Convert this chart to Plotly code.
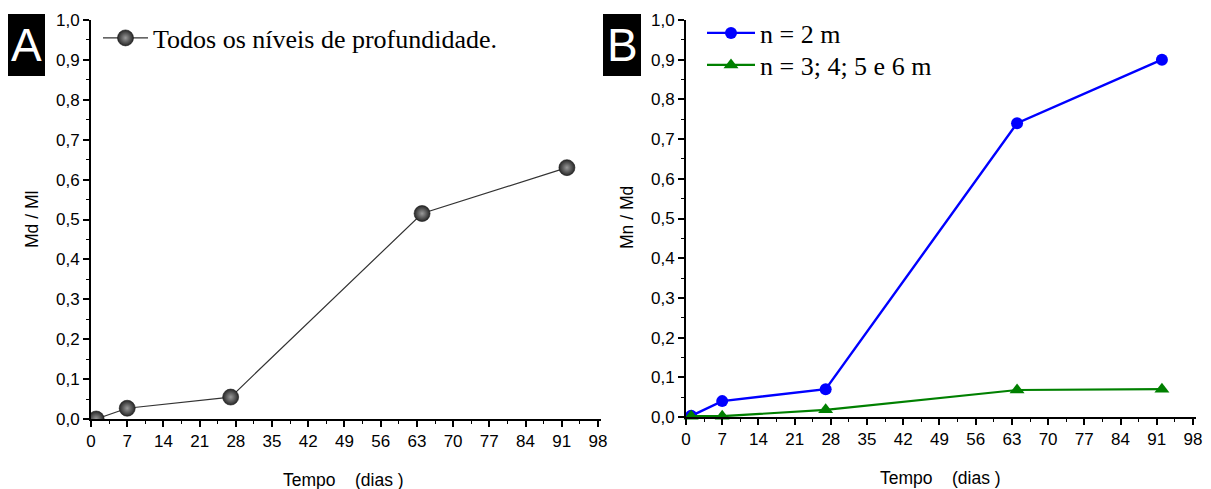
import plotly.graph_objects as go

# Panel A data
dias_a = [1, 7, 27, 64, 92]
md_ml = [0.0, 0.027, 0.055, 0.515, 0.63]

# Panel B data
dias_b = [1, 7, 27, 64, 92]
mn_md_2m = [0.003, 0.04, 0.07, 0.74, 0.90]
mn_md_3a6m = [0.002, 0.002, 0.018, 0.068, 0.07]

x_ticks = list(range(0, 99, 7))
y_ticks = [round(i * 0.1, 1) for i in range(11)]

W, H = 1211, 489

def px_x(p):
    return p / W

def px_y(p):
    return 1 - p / H

fig = go.Figure()

fig.add_trace(go.Scatter(
    x=dias_a, y=md_ml, mode="lines+markers",
    name="Todos os níveis de profundidade.",
    line=dict(color="#333333", width=1.2),
    marker=dict(size=16, color="#262626", line=dict(color="#1a1a1a", width=0.6),
                gradient=dict(type="radial", color="#9a9a9a")),
    cliponaxis=True, xaxis="x", yaxis="y", legend="legend",
))

fig.add_trace(go.Scatter(
    x=dias_b, y=mn_md_2m, mode="lines+markers", name="n = 2 m",
    line=dict(color="#0000FF", width=2.4),
    marker=dict(size=12, color="#0000FF", symbol="circle"),
    cliponaxis=True, xaxis="x2", yaxis="y2", legend="legend2",
))
fig.add_trace(go.Scatter(
    x=dias_b, y=mn_md_3a6m, mode="lines+markers", name="n = 3; 4; 5 e 6 m",
    line=dict(color="#008000", width=2.2),
    marker=dict(size=13, color="#008000", symbol="triangle-up"),
    cliponaxis=False, xaxis="x2", yaxis="y2", legend="legend3",
))

tickfont = dict(family="Liberation Sans, Arial", size=17, color="black")

def xaxis_cfg(x0, anchor):
    return dict(
        domain=[px_x(x0), px_x(x0 + 98.5 * 5.173)], range=[0, 98.5],
        tickvals=x_ticks, ticks="outside", ticklen=6, tickwidth=1.5, tickcolor="black",
        showline=True, linecolor="black", linewidth=2, showgrid=False, zeroline=False,
        tickfont=tickfont, anchor=anchor, automargin=False,
        minor=dict(ticks="outside", ticklen=3, tickwidth=1.2, tickcolor="black",
                   tickvals=[x + 3.5 for x in x_ticks[:-1]], showgrid=False),
    )

def yaxis_cfg(y_bot, y_top, anchor):
    return dict(
        domain=[px_y(y_bot), px_y(y_top)], range=[0, 1.0],
        tickvals=y_ticks, tickformat=".1f", ticks="outside", ticklen=6, tickwidth=1.5,
        tickcolor="black", showline=True, linecolor="black", linewidth=2,
        showgrid=False, zeroline=False, tickfont=tickfont, anchor=anchor, automargin=False,
        minor=dict(ticks="outside", ticklen=3, tickwidth=1.2, tickcolor="black",
                   tickvals=[y + 0.05 for y in y_ticks[:-1]], showgrid=False),
    )

legend_font = dict(family="Liberation Serif, Times New Roman", size=26, color="black")

def legend_cfg(x, y, iw=45):
    return dict(x=px_x(x), y=px_y(y), xanchor="left", yanchor="middle",
                font=legend_font, bgcolor="rgba(0,0,0,0)", itemwidth=iw,
                tracegroupgap=0)

fig.update_layout(
    width=W, height=H,
    margin=dict(l=0, r=0, t=0, b=0, autoexpand=False),
    paper_bgcolor="white", plot_bgcolor="white",
    separators=",.",
    xaxis=xaxis_cfg(91, "y"),
    yaxis=yaxis_cfg(419, 20, "x"),
    xaxis2=xaxis_cfg(686, "y2"),
    yaxis2=yaxis_cfg(417, 20, "x2"),
    legend=legend_cfg(98, 38),
    legend2=legend_cfg(702, 33, 48),
    legend3=legend_cfg(702, 65, 48),
    showlegend=True,
)

# Panel letters
for x0, x1, letter in [(8, 45, "A"), (603, 641, "B")]:
    fig.add_shape(type="rect", xref="paper", yref="paper",
                  x0=px_x(x0), x1=px_x(x1), y0=px_y(76), y1=px_y(14),
                  fillcolor="black", line=dict(width=0), layer="above")
    fig.add_annotation(xref="paper", yref="paper", x=px_x((x0 + x1) / 2), y=px_y(45),
                       text=letter, showarrow=False,
                       font=dict(family="Liberation Sans, Arial", size=46, color="white"),
                       xanchor="center", yanchor="middle")

title_font = dict(family="Liberation Sans, Arial", size=17.5, color="black")
fig.add_annotation(xref="paper", yref="paper", x=px_x(32), y=px_y(220), text="Md / Ml",
                   textangle=-90, showarrow=False, font=title_font,
                   xanchor="center", yanchor="middle")
fig.add_annotation(xref="paper", yref="paper", x=px_x(627), y=px_y(218), text="Mn / Md",
                   textangle=-90, showarrow=False, font=title_font,
                   xanchor="center", yanchor="middle")
fig.add_annotation(xref="paper", yref="paper", x=px_x(343), y=px_y(480),
                   text="Tempo&nbsp;&nbsp;&nbsp;&nbsp;(dias )", showarrow=False, font=title_font,
                   xanchor="center", yanchor="middle")
fig.add_annotation(xref="paper", yref="paper", x=px_x(940), y=px_y(478),
                   text="Tempo&nbsp;&nbsp;&nbsp;&nbsp;(dias )", showarrow=False, font=title_font,
                   xanchor="center", yanchor="middle")

fig.write_html("out.html")
